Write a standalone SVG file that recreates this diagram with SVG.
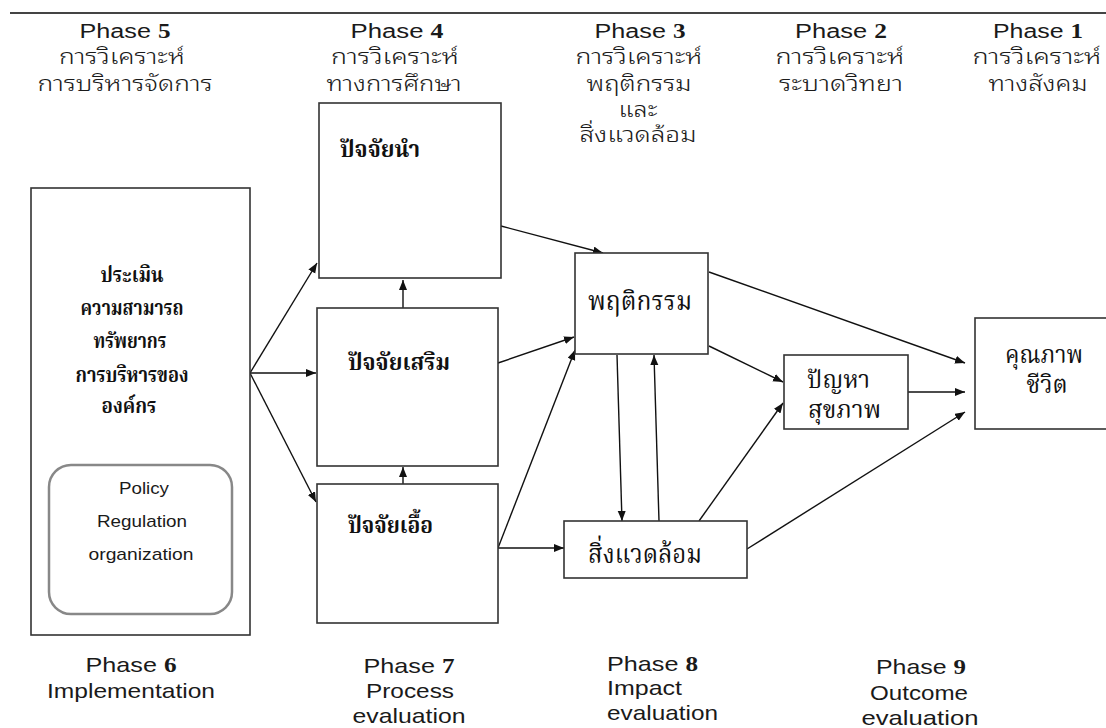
<svg xmlns="http://www.w3.org/2000/svg" width="1106" height="728" viewBox="0 0 1106 728">
<style>
  .lat { font-family: "Liberation Sans", Arial, sans-serif; fill: #1a1a1a; }
  .num { font-family: "Liberation Serif", "Times New Roman", serif; font-weight: bold; }
  .th { font-family: "Noto Sans Thai Looped", "Noto Sans Thai", "Loma", "Garuda", "Tlwg Typo", sans-serif; font-size: 21px; font-weight: 300; fill: #1a1a1a; }
  .thn { font-family: "Noto Serif Thai", "Norasi", "Kinnari", "Noto Sans Thai", serif; fill: #111; }
  .b { font-weight: bold; }
  .box { fill: #fff; stroke: #333; stroke-width: 1.6; }
  .rbox { fill: #fff; stroke: #888; stroke-width: 2.5; }
  .con { fill: none; stroke: #111; stroke-width: 1.4; marker-end: url(#ah); }
</style>
<defs>
  <marker id="ah" markerUnits="userSpaceOnUse" markerWidth="11" markerHeight="9" refX="10" refY="4" orient="auto">
    <path d="M0,0 L10,4 L0,8 z" fill="#111"/>
  </marker>
</defs>
<rect width="1106" height="728" fill="#fff"/>
<line x1="10" y1="13" x2="1106" y2="13" stroke="#444" stroke-width="2"/>

<g id="header-phase5">
  <text class="lat" x="125" y="38" font-size="20" text-anchor="middle" textLength="91" lengthAdjust="spacingAndGlyphs">Phase <tspan class="num">5</tspan></text>
  <text class="th" x="122" y="64" text-anchor="middle" textLength="126" lengthAdjust="spacingAndGlyphs">การวิเคราะห์</text>
  <text class="th" x="125" y="91" text-anchor="middle" textLength="175" lengthAdjust="spacingAndGlyphs">การบริหารจัดการ</text>
</g>
<g id="header-phase4">
  <text class="lat" x="397" y="38" font-size="20" text-anchor="middle" textLength="93" lengthAdjust="spacingAndGlyphs">Phase <tspan class="num">4</tspan></text>
  <text class="th" x="395" y="64" text-anchor="middle" textLength="128" lengthAdjust="spacingAndGlyphs">การวิเคราะห์</text>
  <text class="th" x="394" y="91" text-anchor="middle" textLength="135" lengthAdjust="spacingAndGlyphs">ทางการศึกษา</text>
</g>
<g id="header-phase3">
  <text class="lat" x="640" y="38" font-size="20" text-anchor="middle" textLength="91" lengthAdjust="spacingAndGlyphs">Phase <tspan class="num">3</tspan></text>
  <text class="th" x="639" y="64" text-anchor="middle" textLength="127" lengthAdjust="spacingAndGlyphs">การวิเคราะห์</text>
  <text class="th" x="639" y="91" text-anchor="middle" textLength="105" lengthAdjust="spacingAndGlyphs">พฤติกรรม</text>
  <text class="th" x="638" y="117" text-anchor="middle" textLength="39" lengthAdjust="spacingAndGlyphs">และ</text>
  <text class="th" x="638" y="142" text-anchor="middle" textLength="117" lengthAdjust="spacingAndGlyphs">สิ่งแวดล้อม</text>
</g>
<g id="header-phase2">
  <text class="lat" x="841" y="38" font-size="20" text-anchor="middle" textLength="92" lengthAdjust="spacingAndGlyphs">Phase <tspan class="num">2</tspan></text>
  <text class="th" x="840" y="64" text-anchor="middle" textLength="129" lengthAdjust="spacingAndGlyphs">การวิเคราะห์</text>
  <text class="th" x="841" y="91" text-anchor="middle" textLength="124" lengthAdjust="spacingAndGlyphs">ระบาดวิทยา</text>
</g>
<g id="header-phase1">
  <text class="lat" x="1038" y="38" font-size="20" text-anchor="middle" textLength="90" lengthAdjust="spacingAndGlyphs">Phase <tspan class="num">1</tspan></text>
  <text class="th" x="1037" y="64" text-anchor="middle" textLength="129" lengthAdjust="spacingAndGlyphs">การวิเคราะห์</text>
  <text class="th" x="1038" y="91" text-anchor="middle" textLength="99" lengthAdjust="spacingAndGlyphs">ทางสังคม</text>
</g>

<g id="connectors">
  <line class="con" x1="250" y1="373" x2="317" y2="263"/>
  <line class="con" x1="250" y1="373" x2="316" y2="373"/>
  <line class="con" x1="250" y1="373" x2="316" y2="502"/>
  <line class="con" x1="403" y1="308" x2="403" y2="280"/>
  <line class="con" x1="403" y1="484" x2="403" y2="467"/>
  <line class="con" x1="501" y1="226" x2="603" y2="253"/>
  <line class="con" x1="498" y1="363" x2="574" y2="337"/>
  <line class="con" x1="498" y1="548" x2="575" y2="350"/>
  <line class="con" x1="498" y1="548" x2="564" y2="548"/>
  <line class="con" x1="617" y1="355" x2="622" y2="521"/>
  <line class="con" x1="659" y1="521" x2="654" y2="355"/>
  <line class="con" x1="709" y1="346" x2="783" y2="382"/>
  <line class="con" x1="709" y1="272" x2="965" y2="363"/>
  <line class="con" x1="908" y1="392" x2="965" y2="392"/>
  <line class="con" x1="699" y1="521" x2="783" y2="403"/>
  <line class="con" x1="747" y1="549" x2="965" y2="412"/>
</g>

<g id="node-implementation">
  <rect class="box" x="31" y="188" width="219" height="447"/>
  <text class="thn b" x="132" y="282" font-size="21" text-anchor="middle" textLength="63" lengthAdjust="spacingAndGlyphs">ประเมิน</text>
  <text class="thn b" x="132" y="315" font-size="21" text-anchor="middle" textLength="103" lengthAdjust="spacingAndGlyphs">ความสามารถ</text>
  <text class="thn b" x="130" y="348" font-size="21" text-anchor="middle" textLength="73" lengthAdjust="spacingAndGlyphs">ทรัพยากร</text>
  <text class="thn b" x="132" y="382" font-size="21" text-anchor="middle" textLength="113" lengthAdjust="spacingAndGlyphs">การบริหารของ</text>
  <text class="thn b" x="129" y="413" font-size="21" text-anchor="middle" textLength="55" lengthAdjust="spacingAndGlyphs">องค์กร</text>
</g>
<g id="node-policy">
  <rect class="rbox" x="49" y="465" width="183" height="149" rx="22" ry="22"/>
  <text class="lat" x="144" y="494" font-size="17" text-anchor="middle" textLength="50" lengthAdjust="spacingAndGlyphs">Policy</text>
  <text class="lat" x="142" y="527" font-size="17" text-anchor="middle" textLength="90" lengthAdjust="spacingAndGlyphs">Regulation</text>
  <text class="lat" x="141" y="560" font-size="17" text-anchor="middle" textLength="105" lengthAdjust="spacingAndGlyphs">organization</text>
</g>
<g id="node-predisposing">
  <rect class="box" x="319" y="103" width="182" height="175"/>
  <text class="thn b" x="340" y="157" font-size="23" textLength="80" lengthAdjust="spacingAndGlyphs">ปัจจัยนำ</text>
</g>
<g id="node-reinforcing">
  <rect class="box" x="317" y="308" width="181" height="158"/>
  <text class="thn b" x="348" y="370" font-size="23" textLength="102" lengthAdjust="spacingAndGlyphs">ปัจจัยเสริม</text>
</g>
<g id="node-enabling">
  <rect class="box" x="317" y="484" width="181" height="139"/>
  <text class="thn b" x="348" y="533" font-size="23" textLength="85" lengthAdjust="spacingAndGlyphs">ปัจจัยเอื้อ</text>
</g>
<g id="node-behavior">
  <rect class="box" x="575" y="253" width="133" height="101"/>
  <text class="thn" x="640" y="310" font-size="27" text-anchor="middle" textLength="104" lengthAdjust="spacingAndGlyphs">พฤติกรรม</text>
</g>
<g id="node-environment">
  <rect class="box" x="564" y="521" width="183" height="57"/>
  <text class="thn" x="588" y="563" font-size="27" textLength="114" lengthAdjust="spacingAndGlyphs">สิ่งแวดล้อม</text>
</g>
<g id="node-health">
  <rect class="box" x="784" y="355" width="124" height="74"/>
  <text class="thn" x="807" y="388" font-size="24" textLength="63" lengthAdjust="spacingAndGlyphs">ปัญหา</text>
  <text class="thn" x="808" y="418" font-size="24" textLength="73" lengthAdjust="spacingAndGlyphs">สุขภาพ</text>
</g>
<g id="node-quality">
  <rect class="box" x="975" y="318" width="140" height="111"/>
  <text class="thn" x="1044" y="363" font-size="24" text-anchor="middle" textLength="78" lengthAdjust="spacingAndGlyphs">คุณภาพ</text>
  <text class="thn" x="1047" y="393" font-size="24" text-anchor="middle" textLength="41" lengthAdjust="spacingAndGlyphs">ชีวิต</text>
</g>

<g id="footer-phase6">
  <text class="lat" x="131" y="672" font-size="21" text-anchor="middle" textLength="91" lengthAdjust="spacingAndGlyphs">Phase <tspan class="num">6</tspan></text>
  <text class="lat" x="131" y="698" font-size="21" text-anchor="middle" textLength="168" lengthAdjust="spacingAndGlyphs">Implementation</text>
</g>
<g id="footer-phase7">
  <text class="lat" x="409" y="673" font-size="21" text-anchor="middle" textLength="91" lengthAdjust="spacingAndGlyphs">Phase <tspan class="num">7</tspan></text>
  <text class="lat" x="410" y="698" font-size="21" text-anchor="middle" textLength="88" lengthAdjust="spacingAndGlyphs">Process</text>
  <text class="lat" x="409" y="723" font-size="21" text-anchor="middle" textLength="113" lengthAdjust="spacingAndGlyphs">evaluation</text>
</g>
<g id="footer-phase8">
  <text class="lat" x="607" y="671" font-size="21" textLength="91" lengthAdjust="spacingAndGlyphs">Phase <tspan class="num">8</tspan></text>
  <text class="lat" x="607" y="695" font-size="21" textLength="75" lengthAdjust="spacingAndGlyphs">Impact</text>
  <text class="lat" x="607" y="720" font-size="21" textLength="111" lengthAdjust="spacingAndGlyphs">evaluation</text>
</g>
<g id="footer-phase9">
  <text class="lat" x="921" y="674" font-size="21" text-anchor="middle" textLength="90" lengthAdjust="spacingAndGlyphs">Phase <tspan class="num">9</tspan></text>
  <text class="lat" x="919" y="700" font-size="21" text-anchor="middle" textLength="98" lengthAdjust="spacingAndGlyphs">Outcome</text>
  <text class="lat" x="920" y="725" font-size="21" text-anchor="middle" textLength="117" lengthAdjust="spacingAndGlyphs">evaluation</text>
</g>
</svg>
